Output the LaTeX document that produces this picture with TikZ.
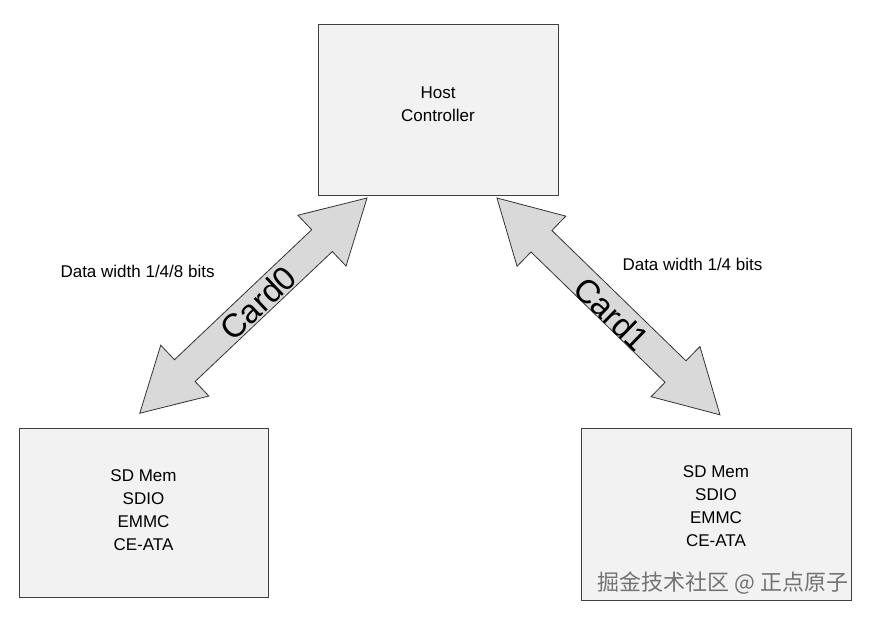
\documentclass[tikz,border=0pt]{standalone}
\usepackage{fontspec}
\setmainfont{Liberation Sans}
\newfontfamily\cjk{Noto Sans CJK SC}
\begin{document}
\begin{tikzpicture}[x=1pt,y=-1pt,
  box/.style={draw=black!75,fill=black!5,line width=0.8pt,inner sep=0pt},
  lbl/.style={font=\fontsize{17}{23}\selectfont,align=center},
  dbl/.style={draw=black!80,fill=black!15,line width=0.8pt,line join=miter}]
\useasboundingbox (0,0) rectangle (869,617);
\node[box,minimum width=240pt,minimum height=171pt] (host) at (438,109.5) {};
\node[lbl] (hostt) at (438,104) {Host\\Controller};
\node[box,minimum width=249pt,minimum height=169pt] (c0) at (143.5,512.5) {};
\node[lbl] (c0t) at (143.5,510) {SD Mem\\SDIO\\EMMC\\CE-ATA};
\node[box,minimum width=270pt,minimum height=172pt] (c1) at (716,514) {};
\node[lbl] (c1t) at (716,506) {SD Mem\\SDIO\\EMMC\\CE-ATA};
\begin{scope}[shift={(367,198)},rotate=223.45]
\draw[dbl] (0,0)--(62,35)--(62,15)--(251,15)--(251,35)--(313,0)--(251,-35)--(251,-15)--(62,-15)--(62,-35)--cycle;
\end{scope}
\begin{scope}[shift={(497,198)},rotate=-44.2]
\draw[dbl] (0,0)--(62,35)--(62,15)--(249,15)--(249,35)--(311,0)--(249,-35)--(249,-15)--(62,-15)--(62,-35)--cycle;
\end{scope}
\node[font=\fontsize{33}{36}\selectfont,rotate=43.5,inner sep=0pt] (card0) at (258,303) {Card0};
\node[font=\fontsize{33}{36}\selectfont,rotate=-44.2,inner sep=0pt] (card1) at (612,314) {Card1};
\node[lbl,anchor=west] (dw0) at (57,271) {Data width 1/4/8 bits};
\node[lbl,anchor=west] (dw1) at (619,264) {Data width 1/4 bits};
\node[font=\cjk\fontsize{22}{26}\selectfont,text=black!55,anchor=east] (wm) at (852,583) {掘金技术社区 @ 正点原子};
\end{tikzpicture}
\end{document}
